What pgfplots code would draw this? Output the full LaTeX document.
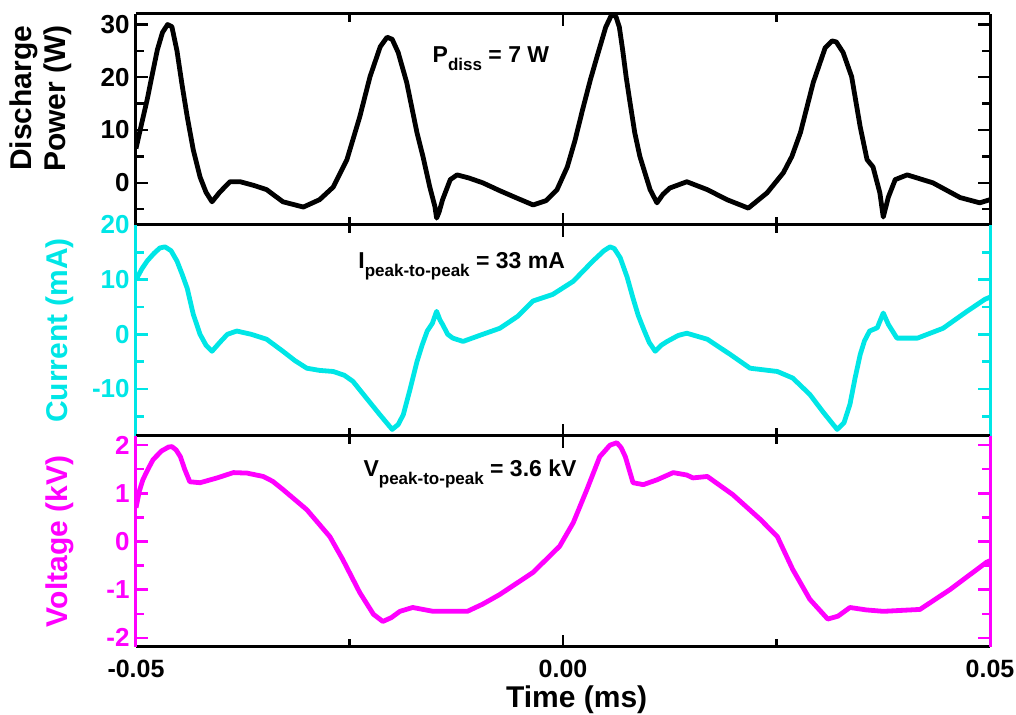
\documentclass[border=0pt]{standalone}
\usepackage{fontspec}
\setmainfont{Liberation Sans}
\usepackage{pgfplots}
\pgfplotsset{compat=1.18}
\definecolor{mycyan}{RGB}{0,230,230}
\definecolor{mymag}{RGB}{255,0,255}
\pgfplotsset{
  panel/.style={
    width=427pt, height=105.5pt, scale only axis,
    xmin=-0.05, xmax=0.05,
    xtick={-0.05,0,0.05}, minor xtick={-0.025,0.025},
    xticklabels={}, scaled x ticks=false, scaled y ticks=false,
    separate axis lines,
    x axis line style={line width=1.5pt, black},
    tick style={line width=1.2pt, black},
    major tick length=6pt, minor tick length=4pt,
    /pgf/number format/assume math mode=true,
    y tick label style={font=\bfseries\fontsize{13}{14}\selectfont, inner sep=3pt},
    x tick label style={font=\bfseries\fontsize{12.5}{14}\selectfont},
    every axis y label/.style={at={(axis description cs:-0.089,0.5)}, anchor=center, rotate=90, font=\bfseries\fontsize{15}{17}\selectfont, align=center},
    clip=true,
  },
}
\tikzset{ann/.style={anchor=base west, font=\bfseries\fontsize{11.5}{13}\selectfont, inner sep=0pt}}
\newcommand{\sub}[1]{\raisebox{-4pt}{\fontsize{8.5}{9}\selectfont #1}}
\begin{document}
\begin{tikzpicture}
\useasboundingbox (-68pt,-34pt) rectangle (440pt,323.5pt);
% ---------- top: power ----------
\begin{axis}[panel, at={(0,211pt)},
  ymin=-8, ymax=32, ytick={0,10,20,30}, minor ytick={-5,5,15,25},
  y axis line style={line width=1.5pt, black},
  ylabel={Discharge\\Power (W)},
  every axis y label/.style={at={(axis description cs:-0.112,0.6)}, anchor=center, rotate=90, font=\bfseries\fontsize{15}{17}\selectfont, align=center},
]
\addplot[black, line width=2.4pt, line join=round] coordinates {
(-0.0500,6.5) (-0.0493,11.5) (-0.0487,15.7) (-0.0481,20.5) (-0.0475,25.2) (-0.0469,28.5) (-0.0463,30) (-0.0458,29.6)
(-0.0452,25) (-0.0446,18.5) (-0.0440,12.5) (-0.0433,6.3) (-0.0425,1.1) (-0.0418,-1.8) (-0.0411,-3.6)
(-0.0402,-1.8) (-0.0390,0.2) (-0.0378,0.2) (-0.0362,-0.5) (-0.0347,-1.3) (-0.0328,-3.6)
(-0.0304,-4.6) (-0.0285,-3.2) (-0.0269,-0.8) (-0.0253,4.4) (-0.0238,12.5) (-0.0226,20.1)
(-0.0214,25.8) (-0.0206,27.6) (-0.0200,27.2) (-0.0193,24.7) (-0.0183,19) (-0.0171,9.5) (-0.0164,5)
(-0.0156,-0.8) (-0.0150,-4.5) (-0.0148,-6.7) (-0.0145,-5.5) (-0.0141,-3.2) (-0.0132,0.6) (-0.0124,1.5)
(-0.0110,0.9) (-0.0094,0) (-0.0074,-1.5) (-0.0054,-2.9) (-0.0035,-4.2) (-0.0020,-3.4)
(-0.0007,-1.3) (0.0005,3) (0.0014,8) (0.0023,13.9) (0.0032,19.5) (0.0040,24) (0.0050,29.5)
(0.0057,31.9) (0.0062,31.5) (0.0066,29.5) (0.0070,25) (0.0074,20) (0.0078,15.7) (0.0084,9.5) (0.0090,5) (0.0102,-1.3)
(0.0110,-3.8) (0.0117,-2.2) (0.0125,-1) (0.0145,0.2) (0.0169,-1.3) (0.0192,-3.2) (0.0217,-4.8)
(0.0239,-1.9) (0.0258,1.9) (0.0268,5) (0.0278,9.5) (0.0293,19) (0.0307,25.6) (0.0315,26.9) (0.0320,26.7)
(0.0328,24.7) (0.0338,20.1) (0.0348,10.6) (0.0356,4.4) (0.0363,3) (0.0371,-1.9)
(0.0375,-6.5) (0.0381,-2.7) (0.0389,0.6) (0.0403,1.5) (0.0433,0) (0.0465,-2.8) (0.0488,-3.8) (0.0500,-3.2)
};
\node[ann] at (axis cs:-0.0153,22.8) {P\sub{diss} = 7 W};
\end{axis}
% ---------- middle: current ----------
\begin{axis}[panel, at={(0,105.5pt)},
  ymin=-18.6, ymax=20, ytick={-10,0,10,20}, minor ytick={-15,-5,5,15},
  y axis line style={line width=1.5pt, mycyan},
  ytick style={line width=1.2pt, mycyan},
  y tick label style={text=mycyan},
  ylabel={Current (mA)},
  every axis y label/.append style={text=mycyan},
]
\addplot[mycyan, line width=2.4pt, line join=round] coordinates {
(-0.0500,10.0) (-0.0493,12) (-0.0487,13.4) (-0.0479,14.8) (-0.0472,15.8) (-0.0466,16) (-0.0459,15.3)
(-0.0452,13.4) (-0.0446,11) (-0.0440,8.4) (-0.0433,3.7) (-0.0425,0) (-0.0418,-2) (-0.0411,-3.1)
(-0.0402,-1.5) (-0.0393,0) (-0.0382,0.6) (-0.0365,0) (-0.0347,-0.9) (-0.0328,-3.1) (-0.0314,-4.8)
(-0.0300,-6.2) (-0.0285,-6.6) (-0.0269,-6.8) (-0.0256,-7.5) (-0.0246,-8.6) (-0.0230,-11.7) (-0.0215,-14.6)
(-0.0200,-17.4) (-0.0193,-16.5) (-0.0187,-14.7) (-0.0179,-10) (-0.0171,-5) (-0.0165,-2) (-0.0159,0.6)
(-0.0153,2) (-0.0148,4.2) (-0.0144,2.6) (-0.0141,1.8) (-0.0135,0) (-0.0129,-0.7) (-0.0117,-1.3)
(-0.0094,0) (-0.0074,1.1) (-0.0053,3.3) (-0.0035,6.1) (-0.0012,7.3) (0.0012,9.7) (0.0035,13.4)
(0.0048,15.3) (0.0055,16) (0.0060,15.7) (0.0067,14) (0.0075,10.5) (0.0082,6.6) (0.0088,3.5) (0.0094,1.1) (0.0101,-1.5)
(0.0108,-3.1) (0.0115,-2) (0.0122,-1.3) (0.0135,-0.2) (0.0145,0.2) (0.0169,-0.9) (0.0196,-3.7)
(0.0219,-6.2) (0.0235,-6.5) (0.0251,-6.8) (0.0269,-8) (0.0289,-11) (0.0305,-14.3) (0.0321,-17.4)
(0.0329,-16.2) (0.0336,-12.8) (0.0342,-8) (0.0348,-3.7) (0.0353,-1.2) (0.0359,0.6) (0.0368,1.2) (0.0375,3.9)
(0.0381,1.8) (0.0391,-0.7) (0.0415,-0.7) (0.0445,1.1) (0.0473,4.2) (0.0494,6.4) (0.0500,6.8)
};
\node[ann] at (axis cs:-0.0240,12.1) {I\sub{peak-to-peak} = 33 mA};
\end{axis}
% ---------- bottom: voltage ----------
\begin{axis}[panel, at={(0,0)},
  ymin=-2.19, ymax=2.19, ytick={-2,-1,0,1,2}, minor ytick={-1.5,-0.5,0.5,1.5},
  xticklabels={-0.05,0.00,0.05},
  x tick label style={yshift=-3pt},
  y axis line style={line width=1.5pt, mymag},
  ytick style={line width=1.2pt, mymag},
  y tick label style={text=mymag},
  ylabel={Voltage (kV)},
  every axis y label/.append style={text=mymag},
  xlabel={Time (ms)},
  every axis x label/.style={at={(axis description cs:0.516,-0.25)}, anchor=center, font=\bfseries\fontsize{15}{17}\selectfont},
]
\addplot[mymag, line width=2.4pt, line join=round] coordinates {
(-0.0500,0.7) (-0.0496,1.05) (-0.0492,1.28) (-0.0486,1.5) (-0.0480,1.7) (-0.0470,1.88) (-0.0462,1.96) (-0.0458,1.97)
(-0.0453,1.9) (-0.0448,1.76) (-0.0443,1.5) (-0.0437,1.24) (-0.0425,1.22) (-0.0405,1.32) (-0.0386,1.43)
(-0.0370,1.42) (-0.0351,1.35) (-0.0340,1.25) (-0.0328,1.08) (-0.0300,0.66) (-0.0273,0.1) (-0.0258,-0.37)
(-0.0238,-1.06) (-0.0222,-1.51) (-0.0211,-1.66) (-0.0201,-1.58) (-0.0191,-1.45) (-0.0176,-1.37)
(-0.0152,-1.45) (-0.0112,-1.45) (-0.0094,-1.3) (-0.0074,-1.1) (-0.0035,-0.64) (-0.0004,-0.1)
(0.0012,0.39) (0.0028,1.08) (0.0043,1.76) (0.0055,2.0) (0.0063,2.05) (0.0068,1.95) (0.0073,1.76)
(0.0082,1.22) (0.0094,1.18) (0.0110,1.28) (0.0129,1.43) (0.0145,1.38) (0.0152,1.32) (0.0169,1.35)
(0.0199,0.97) (0.0231,0.46) (0.0251,0.1) (0.0269,-0.58) (0.0289,-1.2) (0.0310,-1.61) (0.0322,-1.55)
(0.0336,-1.37) (0.0355,-1.42) (0.0375,-1.45) (0.0418,-1.41) (0.0453,-1.0) (0.0496,-0.43) (0.0500,-0.4)
};
\node[ann] at (axis cs:-0.0234,1.35) {V\sub{peak-to-peak} = 3.6 kV};
\end{axis}
\end{tikzpicture}
\end{document}
